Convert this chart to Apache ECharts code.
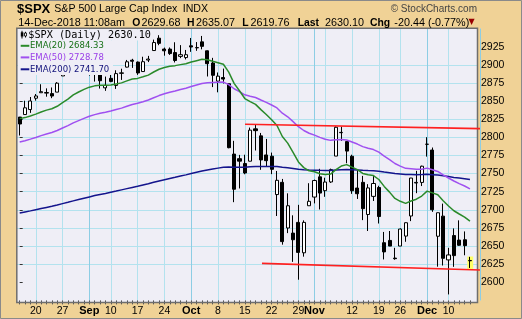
<!DOCTYPE html>
<html><head><meta charset="utf-8">
<script src="https://cdn.jsdelivr.net/npm/echarts@6/dist/echarts.min.js"></script>
<style>html,body{margin:0;padding:0;background:#F0D296;}#c{width:522px;height:319px;}</style>
</head><body><div id="c"></div>
<script>
const dates = [
'2018-08-15','2018-08-16','2018-08-17','2018-08-20','2018-08-21','2018-08-22','2018-08-23','2018-08-24','2018-08-27','2018-08-28','2018-08-29','2018-08-30','2018-08-31',
'2018-09-04','2018-09-05','2018-09-06','2018-09-07','2018-09-10','2018-09-11','2018-09-12','2018-09-13','2018-09-14','2018-09-17','2018-09-18','2018-09-19','2018-09-20','2018-09-21','2018-09-24','2018-09-25','2018-09-26','2018-09-27','2018-09-28',
'2018-10-01','2018-10-02','2018-10-03','2018-10-04','2018-10-05','2018-10-08','2018-10-09','2018-10-10','2018-10-11','2018-10-12','2018-10-15','2018-10-16','2018-10-17','2018-10-18','2018-10-19','2018-10-22','2018-10-23','2018-10-24','2018-10-25','2018-10-26','2018-10-29','2018-10-30','2018-10-31',
'2018-11-01','2018-11-02','2018-11-05','2018-11-06','2018-11-07','2018-11-08','2018-11-09','2018-11-12','2018-11-13','2018-11-14','2018-11-15','2018-11-16','2018-11-19','2018-11-20','2018-11-21','2018-11-23','2018-11-26','2018-11-27','2018-11-28','2018-11-29','2018-11-30',
'2018-12-03','2018-12-04','2018-12-06','2018-12-07','2018-12-10','2018-12-11','2018-12-12','2018-12-13','2018-12-14'];

const opens = [2827.95,2831.44,2838.32,2853.93,2861.51,2860.99,2860.29,2862.35,2884.69,2901.45,2900.62,2908.94,2898.37,
2896.96,2891.59,2888.64,2868.26,2881.39,2871.57,2888.29,2896.85,2906.38,2903.83,2890.74,2906.60,2919.73,2936.76,2921.83,2921.75,2916.98,2911.65,2910.03,
2926.29,2923.80,2931.69,2919.35,2902.54,2877.53,2882.51,2873.90,2776.87,2770.54,2763.83,2767.05,2811.67,2802.00,2775.66,2773.94,2721.03,2737.87,2674.88,2667.86,2682.65,2640.68,2705.60,
2717.58,2745.45,2726.37,2738.40,2774.13,2806.38,2794.10,2773.93,2730.05,2737.90,2693.52,2718.54,2730.74,2654.60,2657.74,2633.36,2649.97,2663.75,2691.45,2736.97,2737.76,
2790.50,2782.43,2663.51,2691.26,2630.86,2664.44,2658.23,2658.70,2629.68];

const highs = [2827.95,2850.49,2855.63,2859.76,2873.23,2867.54,2868.78,2876.16,2898.25,2903.77,2916.50,2912.46,2906.32,
2900.18,2894.21,2892.05,2883.81,2886.93,2892.52,2894.65,2906.76,2908.30,2904.65,2911.17,2912.36,2934.80,2940.91,2923.79,2923.95,2931.15,2927.22,2920.53,
2937.06,2931.42,2939.86,2919.78,2909.64,2889.45,2894.83,2874.02,2795.14,2775.77,2775.99,2813.46,2816.94,2806.04,2797.77,2778.94,2753.59,2742.59,2722.70,2692.38,2706.85,2685.43,2736.69,
2741.67,2756.55,2744.27,2756.82,2815.15,2814.75,2794.10,2775.99,2754.60,2746.80,2735.38,2746.75,2733.16,2669.44,2670.73,2647.55,2674.35,2682.53,2744.00,2753.75,2760.88,
2800.18,2785.93,2696.15,2708.54,2647.51,2674.35,2685.44,2670.19,2635.07];

const lows = [2802.49,2831.44,2833.73,2850.62,2861.32,2856.05,2854.03,2862.35,2884.69,2893.50,2898.40,2895.22,2891.73,
2885.13,2876.92,2867.29,2864.12,2875.94,2866.78,2879.20,2896.39,2895.77,2886.16,2890.43,2903.82,2919.73,2927.11,2912.63,2913.70,2903.28,2909.27,2907.50,
2917.91,2919.37,2921.36,2883.92,2869.29,2862.08,2874.27,2784.86,2710.51,2729.44,2749.03,2766.91,2781.81,2755.18,2760.27,2749.22,2691.43,2651.89,2667.84,2628.16,2603.54,2635.34,2705.60,
2708.85,2700.44,2717.94,2737.08,2774.13,2794.99,2764.24,2722.00,2714.98,2685.75,2670.75,2712.16,2681.09,2631.52,2649.82,2631.09,2649.97,2655.89,2684.38,2722.94,2732.76,
2773.38,2697.18,2621.53,2623.14,2583.23,2621.30,2650.26,2637.27,2619.76];

const closes = [2818.37,2840.69,2850.13,2857.05,2862.96,2861.82,2856.98,2874.69,2896.74,2897.52,2914.04,2901.13,2901.52,
2896.72,2888.60,2878.05,2871.68,2877.13,2887.89,2888.92,2904.18,2904.98,2888.80,2904.31,2907.95,2930.75,2929.67,2919.37,2915.56,2905.97,2914.00,2913.98,
2924.59,2923.43,2925.51,2901.61,2885.57,2884.43,2880.34,2785.68,2728.37,2767.13,2750.79,2809.92,2809.21,2768.78,2767.78,2755.88,2740.69,2656.10,2705.57,2658.69,2641.25,2682.63,2711.74,
2740.37,2723.06,2738.31,2755.45,2813.89,2806.83,2781.01,2726.22,2722.18,2701.58,2730.20,2736.27,2690.73,2641.89,2649.93,2632.56,2673.45,2682.17,2743.79,2737.80,2760.17,
2790.37,2700.06,2695.95,2633.08,2637.72,2636.78,2651.07,2650.54,2630.10];

const ema20 = [2825.8,2827.2,2829.4,2832.0,2835.0,2837.5,2839.4,2842.8,2847.9,2852.6,2858.5,2862.5,2866.2,
2869.2,2871.0,2871.7,2871.7,2872.2,2873.7,2875.1,2877.9,2880.5,2881.3,2883.5,2885.8,2890.1,2893.9,2896.3,2898.1,2898.9,2900.3,2901.6,
2903.8,2905.7,2907.6,2907.0,2905.0,2903.0,2900.8,2889.9,2874.5,2864.3,2853.5,2849.3,2845.5,2838.2,2831.5,2824.3,2816.3,2801.1,2792.0,2779.3,2766.1,2758.2,2753.8,
2752.5,2749.7,2748.6,2749.3,2755.4,2760.3,2762.3,2758.8,2755.4,2750.2,2748.3,2747.2,2741.8,2732.3,2724.4,2715.7,2711.7,2708.9,2712.2,2714.6,2719.0,
2725.8,2723.3,2720.7,2712.4,2705.3,2698.7,2694.2,2690.0,2684.33];

const ema50 = [2793.5,2795.4,2797.5,2799.8,2802.3,2804.6,2806.7,2809.4,2812.8,2816.1,2820.0,2823.1,2826.2,
2829.0,2831.3,2833.2,2834.7,2836.3,2838.4,2840.3,2842.8,2845.3,2847.0,2849.2,2851.5,2854.6,2857.6,2860.0,2862.2,2863.9,2865.9,2867.8,
2870.0,2872.1,2874.2,2875.3,2875.7,2876.0,2876.2,2872.6,2867.0,2863.1,2858.6,2856.7,2854.9,2851.5,2848.2,2844.6,2840.5,2833.3,2828.3,2821.6,2814.6,2809.4,2805.6,
2803.0,2799.9,2797.4,2795.8,2796.5,2796.9,2796.3,2793.5,2790.7,2787.2,2785.0,2783.1,2779.5,2774.1,2769.2,2763.9,2760.3,2757.2,2756.7,2756.0,2756.1,
2757.5,2755.2,2752.9,2748.2,2743.9,2739.7,2736.2,2732.8,2728.78];

const ema200 = [2695.5,2697.0,2698.5,2700.1,2701.7,2703.3,2704.9,2706.6,2708.5,2710.3,2712.3,2714.2,2716.0,
2717.8,2719.6,2721.1,2722.6,2724.2,2725.8,2727.5,2729.2,2730.9,2732.5,2734.2,2735.9,2737.9,2739.8,2741.6,2743.3,2744.9,2746.6,2748.2,
2750.0,2751.7,2753.4,2754.9,2756.2,2757.5,2758.7,2759.0,2758.7,2758.8,2758.7,2759.3,2759.8,2759.9,2759.8,2759.8,2759.6,2758.6,2758.1,2757.1,2755.9,2755.2,2754.8,
2754.7,2754.4,2754.2,2754.2,2754.8,2755.3,2755.5,2755.2,2754.9,2754.4,2754.1,2754.0,2753.3,2752.2,2751.2,2750.0,2749.3,2748.6,2748.6,2748.5,2748.6,
2749.0,2748.5,2748.0,2746.9,2745.8,2744.7,2743.8,2742.9,2741.70];

// x-axis labels (date -> text)
const xLabelDates = ['2018-08-20','2018-08-27','2018-09-04','2018-09-10','2018-09-17','2018-09-24','2018-10-01','2018-10-08','2018-10-15','2018-10-22','2018-10-29','2018-11-01','2018-11-12','2018-11-19','2018-11-26','2018-12-03','2018-12-10'];
const xLabelTexts = ['20','27','Sep','10','17','24','Oct','8','15','22','29','Nov','12','19','26','Dec','10'];
const monthLabels = ['Sep','Oct','Nov','Dec'];
// vertical grid lines: weekly + month starts
const weekLineDates = ['2018-08-20','2018-08-27','2018-09-04','2018-09-10','2018-09-17','2018-09-24','2018-10-01','2018-10-08','2018-10-15','2018-10-22','2018-10-29','2018-11-05','2018-11-12','2018-11-19','2018-11-26','2018-12-03','2018-12-10'];
const monthLineDates = ['2018-09-04','2018-10-01','2018-11-01','2018-12-03'];
const yTicks = [2600,2625,2650,2675,2700,2725,2750,2775,2800,2825,2850,2875,2900,2925];
// trend lines: [trading-day index, price]
const upperTrend = [[42.04,2818.0],[89.74,2811.5]];
const lowerTrend = [[45.2,2626.1],[91.6,2615.6]];

const FONT = '"Liberation Sans", Arial, sans-serif';
const PLOT_BG = '#EFEEF6';
const GRID_C = '#B3E2EE';
const MONTH_C = '#8DCDE4';
const cats = dates.concat(['']);
const labelOf = {}; xLabelDates.forEach((d,i)=>labelOf[d]=xLabelTexts[i]);
const weekSet = new Set(weekLineDates);
const monthSet = new Set(monthLineDates);
const last = dates.length - 1;
const candleData = dates.map((d,i)=>[opens[i], closes[i], lows[i], highs[i]]);
const chg = closes[last] - closes[last-1];
const pct = chg / closes[last-1] * 100;

const chart = echarts.init(document.getElementById('c'), null, {renderer:'canvas'});

function txt(text, x, y, font, fill, align) {
  return {type:'text', x:x, y:y, z:40, silent:true,
    style:{text:text, font:font, fill:fill||'#000', align:align||'left', verticalAlign:'middle', textAlign:align||'left', textVerticalAlign:'middle'}};
}
const F2 = '10.8px ' + FONT, F2B = 'bold 10.4px ' + FONT;

const option = {
  animation:false,
  backgroundColor:'transparent',
  grid:[
    {left:17, top:28.6, width:461, height:271.8, outerBoundsMode:'none', containLabel:false},
    {left:19.68, top:28.6, width:461, height:271.8, outerBoundsMode:'none', containLabel:false}
  ],
  xAxis:[
    {type:'category', gridIndex:0, data:cats, boundaryGap:true,
     axisLine:{show:false},
     axisTick:{show:true, alignWithLabel:true, length:4, interval:(i,v)=>v!=='', lineStyle:{color:'#555', width:1}},
     axisLabel:{interval:(i,v)=>!!labelOf[v], margin:5, color:'#000', fontSize:10.5, fontFamily:FONT,
       formatter:(v)=>{const t=labelOf[v]; if(!t) return ''; return monthLabels.indexOf(t)>=0 ? '{b|'+t+'}' : t;},
       rich:{b:{fontWeight:'bold', fontSize:11, color:'#000', fontFamily:FONT}}},
     splitLine:{show:false}},
    {type:'value', gridIndex:0, min:-0.5, max:cats.length-0.5, show:false},
    {type:'category', gridIndex:1, data:cats, boundaryGap:true, axisLine:{show:false}, axisTick:{show:false}, axisLabel:{show:false},
     splitLine:{show:true, interval:(i,v)=>weekSet.has(v), lineStyle:{color:GRID_C, width:1}}},
    {type:'category', gridIndex:1, data:cats, boundaryGap:true, axisLine:{show:false}, axisTick:{show:false}, axisLabel:{show:false},
     splitLine:{show:true, interval:(i,v)=>monthSet.has(v), lineStyle:{color:MONTH_C, width:1}}}
  ],
  yAxis:[
    {type:'value', gridIndex:0, position:'right', min:2575, max:2950, interval:25, scale:true,
     axisLine:{show:false},
     axisTick:{show:true, length:3, customValues:yTicks, lineStyle:{color:'#333'}},
     axisLabel:{margin:3, color:'#000', fontSize:10.5, fontFamily:FONT, customValues:yTicks,
       formatter:(v)=> (v>=2600 && v<=2925) ? String(v) : ''},
     splitLine:{show:true, showMinLine:false, showMaxLine:false, lineStyle:{color:GRID_C, width:1}}},
    {type:'value', gridIndex:1, min:0, max:1, show:false}
  ],
  series:[
    {type:'candlestick', xAxisIndex:0, yAxisIndex:0, data:candleData, barWidth:3.6, z:3,
     itemStyle:{color:'#ffffff', color0:'#000000', borderColor:'#000000', borderColor0:'#000000', borderWidth:1}},
    {type:'line', xAxisIndex:0, yAxisIndex:0, data:ema200, showSymbol:false, z:4, lineStyle:{color:'#14148c', width:1.5}},
    {type:'line', xAxisIndex:0, yAxisIndex:0, data:ema50, showSymbol:false, z:4, lineStyle:{color:'#a050f0', width:1.5}},
    {type:'line', xAxisIndex:0, yAxisIndex:0, data:ema20, showSymbol:false, z:4, lineStyle:{color:'#2a8a2a', width:1.5}},
    {type:'line', xAxisIndex:1, yAxisIndex:0, data:upperTrend, showSymbol:false, clip:false, z:20, lineStyle:{color:'#ff2020', width:1.6}},
    {type:'line', xAxisIndex:1, yAxisIndex:0, data:lowerTrend, showSymbol:false, clip:false, z:20, lineStyle:{color:'#ff2020', width:1.6},
     markArea:{silent:true, itemStyle:{color:'#FFFF66', opacity:1},
       data:[[{coord:[last-0.5, highs[last]+0.5]}, {coord:[last+0.6, lows[last]-2.5]}]]}}
  ],
  graphic:[
    {type:'rect', z:-10, silent:true, shape:{x:17, y:28, width:461, height:275}, style:{fill:PLOT_BG}},
    {type:'rect', z:15, silent:true, shape:{x:16.8, y:28.3, width:460.7, height:274.2}, style:{fill:null, stroke:'#6e6e6e', lineWidth:1.5}},
    {type:'rect', z:15, silent:true, shape:{x:0.5, y:0.5, width:521, height:318}, style:{fill:null, stroke:'#8a8a8a', lineWidth:1}},
    // legend background (sits above the price marks, like the original)
    {type:'rect', z:25, silent:true, shape:{x:18, y:29.5, width:134, height:11}, style:{fill:PLOT_BG}},
    {type:'rect', z:25, silent:true, shape:{x:18, y:40.5, width:95, height:34.5}, style:{fill:PLOT_BG}},
    // legend icon
    {type:'line', z:40, silent:true, shape:{x1:22, y1:30.8, x2:22, y2:38.5}, style:{stroke:'#000', lineWidth:1}},
    {type:'rect', z:40, silent:true, shape:{x:20.8, y:32.3, width:2.6, height:4.2}, style:{fill:'#000'}},
    {type:'line', z:40, silent:true, shape:{x1:25.5, y1:31.8, x2:25.5, y2:37.5}, style:{stroke:'#000', lineWidth:1}},
    {type:'rect', z:40, silent:true, shape:{x:24.5, y:33, width:2, height:3}, style:{fill:'#fff', stroke:'#000', lineWidth:0.8}},
    txt('$SPX (Daily) ' + closes[last].toFixed(2), 28.3, 35.2, '10.2px "DejaVu Sans Mono", monospace', '#000'),
    {type:'line', z:40, silent:true, shape:{x1:20.7, y1:45.8, x2:29.3, y2:45.8}, style:{stroke:'#2a8a2a', lineWidth:2}},
    txt('EMA(20) ' + ema20[last].toFixed(2), 30, 45.8, '8.5px "DejaVu Sans", sans-serif', '#167016'),
    {type:'line', z:40, silent:true, shape:{x1:20.7, y1:57.4, x2:29.3, y2:57.4}, style:{stroke:'#a050f0', lineWidth:2}},
    txt('EMA(50) ' + ema50[last].toFixed(2), 30, 57.4, '8.5px "DejaVu Sans", sans-serif', '#9a3ee8'),
    {type:'line', z:40, silent:true, shape:{x1:20.7, y1:69.3, x2:29.3, y2:69.3}, style:{stroke:'#14148c', lineWidth:2}},
    txt('EMA(200) ' + ema200[last].toFixed(2), 30, 69.3, '8.5px "DejaVu Sans", sans-serif', '#10107a'),
    // header
    txt('$SPX', 17, 9.8, 'bold 13px ' + FONT, '#000'),
    txt('S&P 500 Large Cap Index', 54.3, 9.3, '10.6px ' + FONT, '#000'),
    txt('INDX', 182.7, 9.3, '10.6px ' + FONT, '#000'),
    txt('\u00A9 StockCharts.com', 477, 9, '10px ' + FONT, '#444', 'right'),
    txt('14-Dec-2018 11:08am', 18.3, 22.8, F2, '#000'),
    txt('O', 132.2, 22.8, F2B, '#000'),
    txt(opens[last].toFixed(2), 141.5, 22.8, F2, '#000'),
    txt('H', 187, 22.8, F2B, '#000'),
    txt(highs[last].toFixed(2), 196, 22.8, F2, '#000'),
    txt('L', 242.3, 22.8, F2B, '#000'),
    txt(lows[last].toFixed(2), 250.5, 22.8, F2, '#000'),
    txt('Last', 297.7, 22.8, F2B, '#000'),
    txt(closes[last].toFixed(2), 325, 22.8, F2, '#000'),
    txt('Chg', 370, 22.8, F2B, '#000'),
    txt(chg.toFixed(2) + ' (' + pct.toFixed(2) + '%)', 394.3, 22.8, F2, '#000'),
    txt('\u25BC', 468.5, 22.3, '8px "DejaVu Sans", sans-serif', '#990000')
  ]
};
chart.setOption(option);
</script>
</body></html>
